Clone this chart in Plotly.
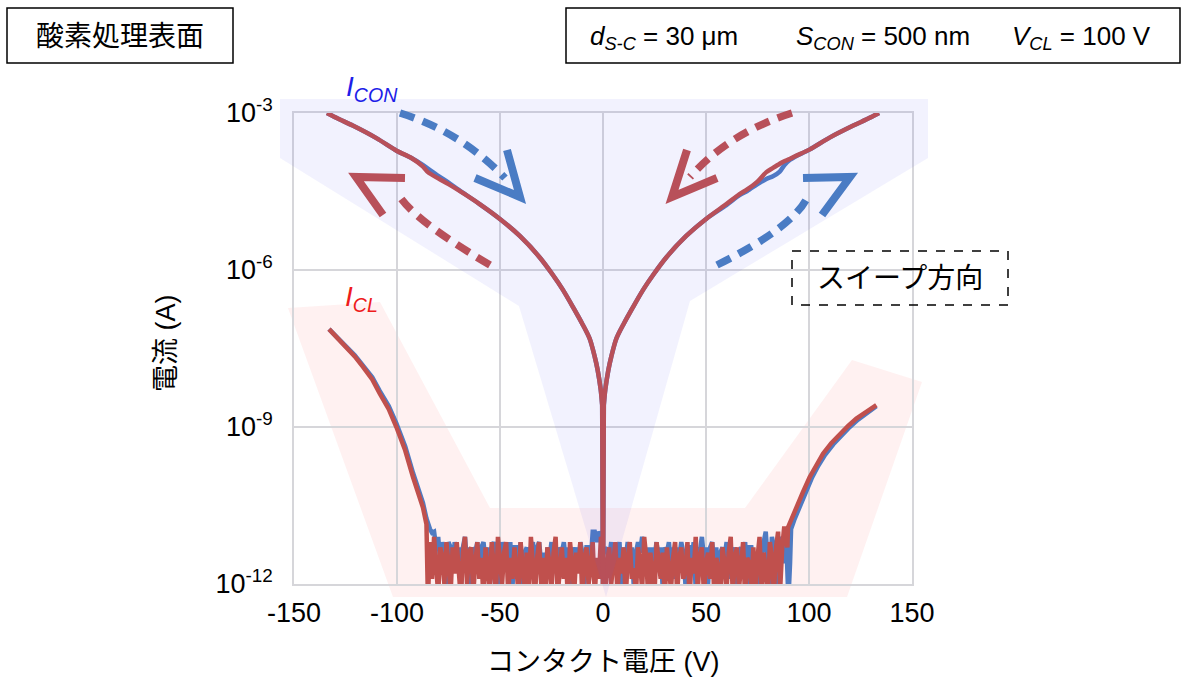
import numpy as np
import plotly.graph_objects as go

# ---------------- data: log10 of current (A) vs contact voltage (V) ----------------
V_CON_L = [-134, -128, -121.5, -110, -100.2, -93, -87.5, -85, -80, -75, -70, -59.9, -50.2, -40.4,
           -30.7, -24.4, -19.6, -14.7, -9.9, -6.5, -4.0, -2.6, -1.1, -0.4]
CON_L_BLUE = [-3.00, -3.12, -3.24, -3.48, -3.72, -3.86, -3.99, -4.06, -4.20, -4.33, -4.47, -4.74,
              -5.02, -5.35, -5.76, -6.09, -6.37, -6.70, -7.04, -7.31, -7.66, -7.91, -8.29, -8.58]
CON_L_RED = [-3.00, -3.12, -3.24, -3.48, -3.72, -3.86, -4.02, -4.13, -4.25, -4.36, -4.48, -4.74,
             -5.02, -5.35, -5.76, -6.09, -6.37, -6.70, -7.04, -7.31, -7.66, -7.91, -8.29, -8.58]
V_CON_R = [0.4, 1.1, 2.6, 4.0, 6.5, 9.9, 14.7, 19.6, 24.4, 30.7, 40.4, 50.2, 59.9, 66.3, 70, 75,
           79.3, 82.5, 85.8, 88, 90.6, 93, 100.2, 110, 121.5, 128, 134]
CON_R_RED = [-8.58, -8.29, -7.91, -7.66, -7.31, -7.04, -6.70, -6.37, -6.09, -5.76, -5.35, -5.02,
             -4.74, -4.55, -4.46, -4.31, -4.13, -4.05, -3.97, -3.92, -3.88, -3.83, -3.70, -3.47,
             -3.24, -3.12, -3.00]
CON_R_BLUE = [-8.58, -8.29, -7.91, -7.66, -7.31, -7.04, -6.70, -6.37, -6.09, -5.76, -5.35, -5.02,
              -4.76, -4.57, -4.49, -4.36, -4.26, -4.21, -4.12, -4.00, -3.90, -3.84, -3.70, -3.47,
              -3.24, -3.12, -3.00]
V_CON_0 = [-0.4, 0, 0.4]
CON_0 = [-8.58, -12.5, -8.58]

V_CL_L_RED = [-133, -129, -125, -120.5, -116.5, -112, -108.4, -104, -100.3, -96, -92.2, -89,
              -87.4, -85.7]
CL_L_RED = [-7.13, -7.29, -7.47, -7.65, -7.85, -8.09, -8.36, -8.66, -9.00, -9.45, -9.96, -10.35,
            -10.54, -10.86]
V_CL_L_BLUE = [-133, -129, -125, -120.5, -116.5, -112, -108.4, -104, -100.3, -96, -92.2, -89,
               -87.4, -85.7, -85, -84, -83]
CL_L_BLUE = [-7.13, -7.28, -7.45, -7.63, -7.82, -8.05, -8.31, -8.60, -8.93, -9.37, -9.88, -10.25,
             -10.45, -10.75, -10.86, -10.95, -11.02]

V_CL_R_RED = [89.5, 89.8, 91.5, 93.9, 97, 100.3, 103.5, 106.8, 110.8, 114.9, 119, 123, 128, 132.7]
CL_R_RED = [-11.30, -10.92, -10.75, -10.54, -10.25, -9.96, -9.72, -9.51, -9.31, -9.13, -8.98,
            -8.84, -8.70, -8.58]
V_CL_R_BLUE = [90.8, 91.3, 92.8, 95.0, 98.0, 101.3, 104.5, 107.8, 111.8, 115.8, 119.8, 123.8,
               128.5, 132.7]
CL_R_BLUE = [-11.60, -10.95, -10.78, -10.56, -10.27, -9.98, -9.74, -9.53, -9.33, -9.15, -9.00,
             -8.86, -8.72, -8.60]

# noise floor of I_CL, one reading per volt
NOISE_RED_START, NOISE_RED_END = -85, 89
NOISE_RED = [
    -12.3, -11.2, -11.9, -11.1, -11.6, -12.2, -11.3, -11.5, -12.0, -11.2,
    -11.6, -12.2, -11.3, -11.8, -11.2, -11.7, -12.3, -11.4, -11.1, -12.0,
    -11.4, -11.3, -12.2, -11.6, -11.2, -11.9, -11.5, -12.3, -11.3, -11.7,
    -12.1, -11.2, -11.6, -12.2, -11.1, -11.6, -12.0, -11.4, -11.2, -12.2,
    -11.5, -11.9, -11.3, -11.7, -12.2, -11.2, -11.6, -12.1, -11.4, -12.2,
    -11.1, -11.7, -12.2, -11.5, -11.2, -12.0, -11.5, -12.3, -11.3, -11.6,
    -12.1, -11.4, -11.1, -12.2, -11.7, -11.3, -11.9, -11.5, -12.3, -11.2,
    -11.6, -12.2, -11.4, -11.8, -11.2, -12.3, -11.5, -11.3, -12.0, -11.7,
    -11.2, -12.2, -11.5, -11.9, -11.1, -11.4, -12.3, -11.6, -11.3, -12.0,
    -11.6, -11.2, -12.2, -11.5, -11.8, -11.3, -12.3, -11.5, -11.2, -11.9,
    -11.7, -12.2, -11.3, -11.6, -12.1, -11.1, -11.5, -12.3, -11.4, -11.7,
    -12.2, -11.2, -11.6, -11.9, -11.4, -12.3, -11.3, -11.7, -12.1, -11.5,
    -11.2, -12.2, -11.5, -11.3, -11.9, -11.7, -11.2, -12.3, -11.5, -11.8,
    -11.1, -12.1, -11.5, -11.3, -12.2, -11.6, -11.4, -11.9, -11.2, -12.2,
    -11.5, -11.7, -12.3, -11.3, -11.6, -12.1, -11.4, -11.1, -12.2, -11.5,
    -11.3, -12.1, -11.7, -11.2, -12.3, -11.5, -11.6, -12.0, -11.3, -12.2,
    -11.5, -11.1, -12.1, -11.4, -11.7, -12.3, -11.2, -11.5, -12.2, -11.3,
    -11.0, -12.1, -11.3, -10.9, -11.2,
]
NOISE_BLUE_START, NOISE_BLUE_END = -82, 90
NOISE_BLUE = [
    -11.0, -11.3, -11.1, -11.6, -11.2, -11.4, -12.0, -11.2, -11.3, -11.7,
    -11.2, -11.5, -11.3, -12.1, -11.3, -11.1, -11.6, -11.3, -12.0, -11.3,
    -11.4, -11.2, -11.9, -11.3, -11.2, -11.6, -11.3, -12.1, -11.3, -11.2,
    -11.5, -11.3, -12.0, -11.2, -11.4, -11.3, -11.7, -11.2, -12.1, -11.3,
    -11.3, -11.6, -11.2, -12.0, -11.4, -11.3, -11.7, -11.3, -11.2, -11.9,
    -11.3, -11.2, -11.6, -11.4, -12.1, -11.3, -11.5, -11.2, -11.7, -11.3,
    -12.0, -11.3, -11.4, -11.2, -11.6, -11.3, -12.1, -11.3, -11.5, -11.3,
    -11.7, -11.2, -11.4, -12.0, -11.3, -11.3, -11.6, -11.0, -11.0, -11.2,
    -11.0, -11.1, -11.4, -11.3, -11.4, -11.5, -11.2, -11.7, -11.3, -11.4,
    -11.2, -12.0, -11.3, -11.5, -11.2, -11.6, -11.3, -12.1, -11.4, -11.2,
    -11.4, -11.1, -11.3, -11.7, -11.3, -12.0, -11.3, -11.5, -11.2, -11.6,
    -11.3, -12.1, -11.3, -11.4, -11.2, -11.7, -11.3, -11.9, -11.3, -11.5,
    -11.2, -11.4, -12.0, -11.3, -11.3, -11.6, -11.2, -12.1, -11.3, -11.4,
    -11.1, -11.5, -11.3, -12.0, -11.3, -11.2, -11.6, -11.3, -12.1, -11.4,
    -11.3, -11.5, -11.2, -11.9, -11.3, -11.6, -11.3, -12.1, -11.4, -11.3,
    -11.5, -11.2, -12.0, -11.3, -11.3, -11.7, -11.4, -12.1, -11.3, -11.5,
    -11.2, -11.0, -11.6, -12.1, -11.1, -11.3, -12.1, -11.4, -11.1, -11.3,
    -11.6, -11.2, -12.3,
]

X_TICKS = [-150, -100, -50, 0, 50, 100, 150]
X_TICK_TEXT = ["-150", "-100", "-50", "0", "50", "100", "150"]
Y_TICK_EXP = [-12, -9, -6, -3]
Y_TICK_TEXT = ["10<sup>-12</sup>", "10<sup>-9</sup>", "10<sup>-6</sup>", "10<sup>-3</sup>"]

# ---------------- style ----------------
BLUE = "#4F7BC2"
RED = "#C0504D"
FONT = "Liberation Sans, Noto Sans CJK JP, sans-serif"
W, H = 1184, 679
ML, MR, MT, MB = 294, 272, 113, 95
PW, PH = W - ML - MR, H - MT - MB


def fx(x):
    return (x - ML) / PW


def fy(y):
    return (MT + PH - y) / PH


def to_paper(path_px):
    out, nums = [], []
    for tok in path_px.split():
        if tok.isalpha():
            out.append(tok)
        else:
            nums.append(float(tok))
            if len(nums) == 2:
                out.append(f"{fx(nums[0]):.5f},{fy(nums[1]):.5f}")
                nums = []
    return " ".join(out)


def poly(pts):
    s = "M " + " L ".join(f"{x} {y}" for x, y in pts) + " Z"
    return to_paper(s)


def lg(v):
    return 10 ** np.array(v, dtype=float)


fig = go.Figure()


def line_trace(x, y, color, spline=False):
    fig.add_trace(go.Scatter(
        x=x, y=lg(y), mode="lines", showlegend=False, hoverinfo="skip",
        line=dict(color=color, width=4.5, shape="spline" if spline else "linear",
                  smoothing=0.8 if spline else None)))


noise_v_red = list(np.arange(NOISE_RED_START, NOISE_RED_END + 1))
noise_v_blue = list(np.arange(NOISE_BLUE_START, NOISE_BLUE_END + 1))
assert len(noise_v_red) == len(NOISE_RED)
assert len(noise_v_blue) == len(NOISE_BLUE)

for color, con_l, con_r, vcl_l, cl_l, nv, nz, vcl_r, cl_r in [
    (BLUE, CON_L_BLUE, CON_R_BLUE, V_CL_L_BLUE, CL_L_BLUE, noise_v_blue, NOISE_BLUE,
     V_CL_R_BLUE, CL_R_BLUE),
    (RED, CON_L_RED, CON_R_RED, V_CL_L_RED, CL_L_RED, noise_v_red, NOISE_RED,
     V_CL_R_RED, CL_R_RED),
]:
    line_trace(list(vcl_l) + nv + list(vcl_r), list(cl_l) + nz + list(cl_r), color)
    line_trace(V_CON_L, con_l, color, spline=True)
    line_trace(V_CON_R, con_r, color, spline=True)
    line_trace(V_CON_0, CON_0, color)

# ---------------- decorations (pixel positions) ----------------
BLUE_ZONE = [(280, 99), (928, 99), (928, 158), (690, 301), (606, 597), (519, 306), (280, 158)]
PINK_ZONE = [(288, 308), (380, 302), (490, 508), (745, 508), (852, 360), (922, 382), (847, 597),
             (393, 597)]

shapes = [
    dict(type="path", xref="paper", yref="paper", path=poly(PINK_ZONE), layer="below",
         fillcolor="rgba(255,60,60,0.07)", line=dict(width=0)),
    dict(type="path", xref="paper", yref="paper", path=poly(BLUE_ZONE), layer="above",
         fillcolor="rgba(90,90,240,0.08)", line=dict(width=0)),
]

ARROWS = [
    ("M 400 113 Q 461 132 505 178", "M 507 150 L 520 197 L 475 178", "#4A7CC4"),
    ("M 490 265 Q 410 218 397 192", "M 405 178 L 356 177 L 383 215", "#B8505A"),
    ("M 792 113 Q 729 133 690 177", "M 687 150 L 672 197 L 717 178", "#B8505A"),
    ("M 717 265 Q 792 228 807 198", "M 803 178 L 850 177 L 822 215", "#4A7CC4"),
]
for arc, head, col in ARROWS:
    shapes.append(dict(type="path", xref="paper", yref="paper", path=to_paper(arc),
                       line=dict(color=col, width=7.5, dash="15px,9px")))
    shapes.append(dict(type="path", xref="paper", yref="paper", path=to_paper(head),
                       line=dict(color=col, width=8)))

BOXES = [((7, 8), (233, 63), "solid"), ((566, 8), (1180, 63), "solid"),
         ((792, 251), (1008, 305), "dash")]
for (x0, y0), (x1, y1), dash in BOXES:
    shapes.append(dict(type="rect", xref="paper", yref="paper", x0=fx(x0), x1=fx(x1),
                       y0=fy(y0), y1=fy(y1), line=dict(color="black", width=1.5, dash=dash),
                       fillcolor="rgba(0,0,0,0)"))


def ann(text, x, y, size, color="black", xanchor="center", angle=0):
    return dict(text=text, x=fx(x), y=fy(y), xref="paper", yref="paper", showarrow=False,
                xanchor=xanchor, yanchor="middle", textangle=angle,
                font=dict(family=FONT, size=size, color=color))


annotations = [
    ann("酸素処理表面", 120, 36, 28),
    ann("<i>d</i><sub><i>S-C</i></sub> = 30 μm", 588, 37, 26, xanchor="left"),
    ann("<i>S</i><sub><i>CON</i></sub> = 500 nm", 794, 37, 26, xanchor="left"),
    ann("<i>V</i><sub><i>CL</i></sub> = 100 V", 1010, 37, 26, xanchor="left"),
    ann("<i>I</i><sub><i>CON</i></sub>", 344, 88, 28, color="#1E1EE8", xanchor="left"),
    ann("<i>I</i><sub><i>CL</i></sub>", 343, 298, 28, color="#EE1C1C", xanchor="left"),
    ann("スイープ方向", 900, 278, 28),
    ann("電流 (A)", 166, 343, 27, angle=-90),
    ann("コンタクト電圧 (V)", 603, 662, 27),
]

fig.update_layout(
    width=W, height=H, autosize=False,
    margin=dict(l=ML, r=MR, t=MT, b=MB, pad=0),
    paper_bgcolor="white", plot_bgcolor="white",
    font=dict(family=FONT, size=27, color="black"),
    shapes=shapes, annotations=annotations, showlegend=False,
    xaxis=dict(range=[-150, 150], tickvals=X_TICKS, ticktext=X_TICK_TEXT, showgrid=True,
               gridcolor="#D6D6DA", gridwidth=1.5, zeroline=False, showline=True, mirror=True,
               linecolor="#D6D6DA", linewidth=1.5, ticks="", ticklabelstandoff=4,
               tickfont=dict(size=27, family=FONT)),
    yaxis=dict(type="log", range=[-12, -3], tickvals=[10.0 ** e for e in Y_TICK_EXP],
               ticktext=Y_TICK_TEXT, showgrid=True, gridcolor="#D6D6DA", gridwidth=1.5,
               zeroline=False, showline=True, mirror=True, linecolor="#D6D6DA", linewidth=1.5,
               ticks="", ticklabelstandoff=14, tickfont=dict(size=27, family=FONT)),
)

fig.write_html("out.html")
